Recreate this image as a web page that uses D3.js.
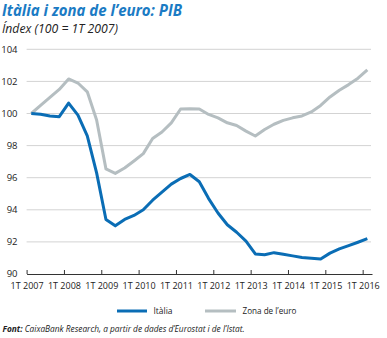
<!DOCTYPE html>
<html><head><meta charset="utf-8">
<script src="https://cdn.jsdelivr.net/npm/d3@7"></script>
<style>body{margin:0;background:#fff}svg{display:block}text{font-family:"Open Sans",sans-serif}</style>
</head><body><svg id="c" width="387" height="338"></svg>
<script>
const quarters = d3.range(37); // 1T 2007 .. 1T 2016
const italia = [100.0,99.95,99.85,99.8,100.65,99.9,98.6,96.3,93.4,93.0,93.4,93.65,94.0,94.6,95.1,95.6,95.95,96.2,95.75,94.7,93.8,93.07,92.6,92.05,91.25,91.2,91.33,91.23,91.13,91.03,90.98,90.93,91.3,91.56,91.77,91.98,92.2];
const euro = [100.0,100.5,101.0,101.5,102.15,101.9,101.35,99.6,96.55,96.27,96.6,97.04,97.5,98.44,98.85,99.42,100.28,100.3,100.28,99.94,99.73,99.42,99.25,98.9,98.6,99.0,99.33,99.57,99.73,99.85,100.1,100.5,101.03,101.45,101.8,102.2,102.72];
const xTickLabels = ["1T 2007","1T 2008","1T 2009","1T 2010","1T 2011","1T 2012","1T 2013","1T 2014","1T 2015","1T 2016"];
const yTicks = [90,92,94,96,98,100,102,104];

const BLUE = "#0a6db5", GREY = "#b5bec1", TITLE = "#1b7bc4";
const svg = d3.select("#c");
const x = d3.scaleLinear().domain([0,37]).range([26.6,372]);
const y = d3.scaleLinear().domain([90,104]).range([274,49.3]);

// title
svg.append("text").attr("x",2).attr("y",15.5).attr("font-size",15.5).attr("font-weight","bold").attr("font-style","italic")
  .attr("fill",TITLE).attr("textLength",180).attr("lengthAdjust","spacingAndGlyphs").text("Itàlia i zona de l’euro: PIB");
svg.append("text").attr("x",2).attr("y",33).attr("font-size",12.5).attr("font-style","italic")
  .attr("fill","#222").attr("textLength",116).attr("lengthAdjust","spacingAndGlyphs").text("Índex (100 = 1T 2007)");

// grid
svg.append("g").selectAll("line").data(yTicks.filter(d=>d>90)).join("line")
  .attr("x1",26.6).attr("x2",371).attr("y1",d=>y(d)).attr("y2",d=>y(d))
  .attr("stroke","#d3d3d3").attr("stroke-width",1);
// y labels
svg.append("g").selectAll("text").data(yTicks).join("text")
  .attr("x",17.5).attr("y",d=>y(d)).attr("dy","0.35em").attr("text-anchor","end")
  .attr("font-size",9.5).attr("fill","#222").text(d=>d);

// x axis
const xAxis = d3.axisBottom(x).tickValues(d3.range(0,37,4)).tickFormat((d,i)=>xTickLabels[i]).tickSize(-4).tickPadding(10).tickSizeOuter(0);
const gx = svg.append("g").attr("transform",`translate(0,${y(90)})`).call(xAxis);
gx.select(".domain").attr("stroke","#333").attr("stroke-width",1);
gx.selectAll(".tick line").attr("stroke","#333");
gx.selectAll(".tick text").attr("font-family","'Open Sans',sans-serif").attr("font-size",9).attr("fill","#222").attr("dy","0.6em");

// lines
const line = d3.line().x((d,i)=>x(quarters[i]+0.5)).y(d=>y(d));
svg.append("path").datum(euro).attr("d",line).attr("fill","none").attr("stroke",GREY).attr("stroke-width",3).attr("stroke-linejoin","round");
svg.append("path").datum(italia).attr("d",line).attr("fill","none").attr("stroke",BLUE).attr("stroke-width",3).attr("stroke-linejoin","round");

// legend
const lg = svg.append("g");
lg.append("line").attr("x1",117).attr("x2",147).attr("y1",311).attr("y2",311).attr("stroke",BLUE).attr("stroke-width",3);
lg.append("text").attr("x",153.5).attr("y",311).attr("dy","0.35em").attr("font-size",9).attr("fill","#222")
  .attr("textLength",19).attr("lengthAdjust","spacingAndGlyphs").text("Itàlia");
lg.append("line").attr("x1",205).attr("x2",236).attr("y1",311).attr("y2",311).attr("stroke",GREY).attr("stroke-width",3);
lg.append("text").attr("x",242.5).attr("y",311).attr("dy","0.35em").attr("font-size",9).attr("fill","#222")
  .attr("textLength",54).attr("lengthAdjust","spacingAndGlyphs").text("Zona de l’euro");

// footer
const ft = svg.append("text").attr("x",2.5).attr("y",332).attr("font-size",9).attr("font-style","italic").attr("fill","#222")
  .attr("textLength",242).attr("lengthAdjust","spacingAndGlyphs");
ft.append("tspan").attr("font-weight","bold").text("Font:");
ft.append("tspan").text(" CaixaBank Research, a partir de dades d’Eurostat i de l’Istat.");
</script></body></html>
